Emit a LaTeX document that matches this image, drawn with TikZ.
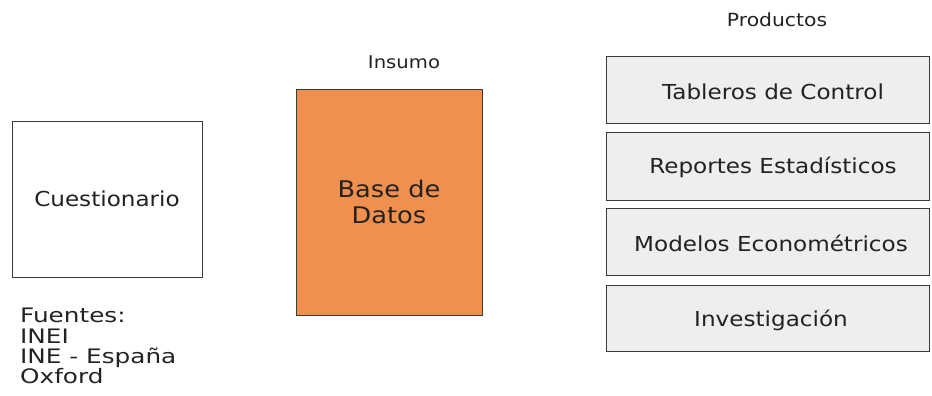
\documentclass[tikz,border=0pt]{standalone}
\usepackage{fontspec}
\newfontfamily\vf[FakeStretch=1.12]{DejaVu Sans}
\newfontfamily\vfw[FakeStretch=1.24]{DejaVu Sans}
\definecolor{orangebox}{HTML}{F0904E}
\definecolor{graybox}{HTML}{EEEEEE}
\definecolor{edge}{HTML}{3A3A3A}
\definecolor{txt}{HTML}{222222}
\begin{document}
\begin{tikzpicture}[x=1bp,y=-1bp,
  box/.style={draw=edge,line width=0.9bp},
  lbl/.style={text=txt,font=\vf\fontsize{20.7}{23}\selectfont,inner sep=0pt,anchor=center}]
\useasboundingbox (0,0) rectangle (932,395);
% boxes
\draw[box,fill=white] (12,121) rectangle (202,277);
\draw[box,fill=orangebox] (296,89) rectangle (482,315);
\draw[box,fill=graybox] (606,56) rectangle (929,123);
\draw[box,fill=graybox] (606,132) rectangle (929,200);
\draw[box,fill=graybox] (606,208) rectangle (929,275);
\draw[box,fill=graybox] (606,285) rectangle (929,351);
% labels
\node[lbl] (cues) at (107,199) {Cuestionario};
\node[lbl,font=\vf\fontsize{23}{26}\selectfont,align=center] (bd) at (389,202) {Base de\\Datos};
\node[lbl] (p1) at (773,92) {Tableros de Control};
\node[lbl] (p2) at (773,167) {Reportes Estadísticos};
\node[lbl] (p3) at (771,243) {Modelos Econométricos};
\node[lbl] (p4) at (771,320) {Investigación};
\node[lbl,font=\vf\fontsize{17.6}{20}\selectfont] (ins) at (404,62) {Insumo};
\node[lbl,font=\vf\fontsize{18.2}{20}\selectfont] (prod) at (777,20) {Productos};
\node[lbl,anchor=north west,align=left,font=\vfw\fontsize{20}{20.4}\selectfont] (fu) at (20,308) {Fuentes:\\INEI\\INE - España\\Oxford};
\end{tikzpicture}
\end{document}
